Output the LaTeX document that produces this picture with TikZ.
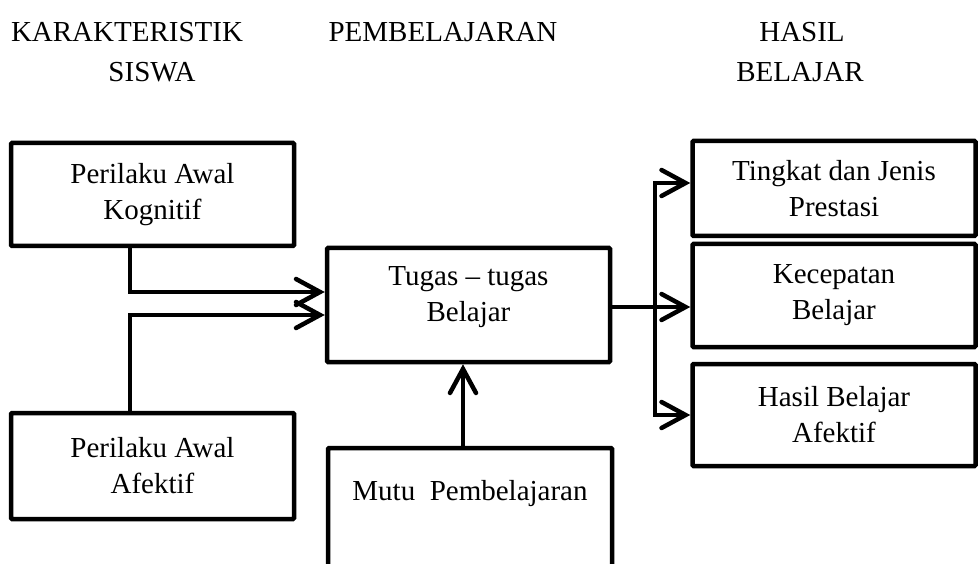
\documentclass[tikz,border=0pt]{standalone}
\usepackage{fontspec}
\setmainfont{Liberation Serif}
\usetikzlibrary{arrows.meta,calc}
\begin{document}
\begin{tikzpicture}[x=1pt,y=-1pt,
  box/.style={draw=black,line width=4.5pt,rounded corners=1pt,inner sep=0pt,
    font=\fontsize{29}{36}\selectfont,align=center},
  txt/.style={inner sep=0pt,font=\fontsize{29}{36}\selectfont,align=center},
  arr/.style={line width=4.5pt,-{Straight Barb[length=24pt,width=26pt,line width=4.5pt,line cap=round]}},
  ln/.style={line width=4.5pt}]
\useasboundingbox (0,0) rectangle (980,564);
\clip (0,0) rectangle (980,564);
% headings
\node[txt] (h1) at (127,32) {KARAKTERISTIK};
\node[txt] (h2) at (152,72) {SISWA};
\node[txt] (h3) at (443,32) {PEMBELAJARAN};
\node[txt] (h4) at (802,32) {HASIL};
\node[txt] (h5) at (800,72) {BELAJAR};
% boxes
\node[box,minimum width=283pt,minimum height=103pt] (kog) at (152.5,194.5) {Perilaku Awal\\Kognitif};
\node[box,minimum width=283pt,minimum height=106pt] (afe) at (152.5,466) {Perilaku Awal\\Afektif};
\node[box,minimum width=283pt,minimum height=114pt] (tug) at (468.5,305) {};
\node[txt] (tugT) at (468.5,297) {Tugas -- tugas\\Belajar};
\node[box,minimum width=284pt,minimum height=130pt] (mut) at (470,513) {};
\node[txt] (mutT) at (470,494) {Mutu\ \ Pembelajaran};
\node[box,minimum width=283pt,minimum height=95pt] (ra) at (834,188.5) {Tingkat dan Jenis\\Prestasi};
\node[box,minimum width=283pt,minimum height=103pt] (rb) at (834,295.5) {Kecepatan\\Belajar};
\node[box,minimum width=283pt,minimum height=102pt] (rc) at (834,415) {Hasil Belajar\\Afektif};
% connectors
\coordinate (k1) at ([xshift=-22.5pt]kog.south);
\coordinate (t1) at ([yshift=13pt]tug.west);
\draw[arr] (k1) |- (t1);
\coordinate (a1) at ([xshift=-22.5pt]afe.north);
\coordinate (t2) at ([yshift=-10pt]tug.west);
\draw[arr] (a1) |- (t2);
\coordinate (m1) at ([xshift=-7pt]mut.north);
\draw[arr] (m1) -- (m1 |- tug.south);
\coordinate (e1) at ([yshift=-2pt]tug.east);
\coordinate (sp) at (655,307);
\draw[arr] (e1) -- (e1 -| rb.west);
\coordinate (ya) at (655,183);
\coordinate (yc) at (655,415);
\draw[arr] (sp) |- (ya -| ra.west);
\draw[arr] (sp) |- (yc -| rc.west);
\end{tikzpicture}
\end{document}
